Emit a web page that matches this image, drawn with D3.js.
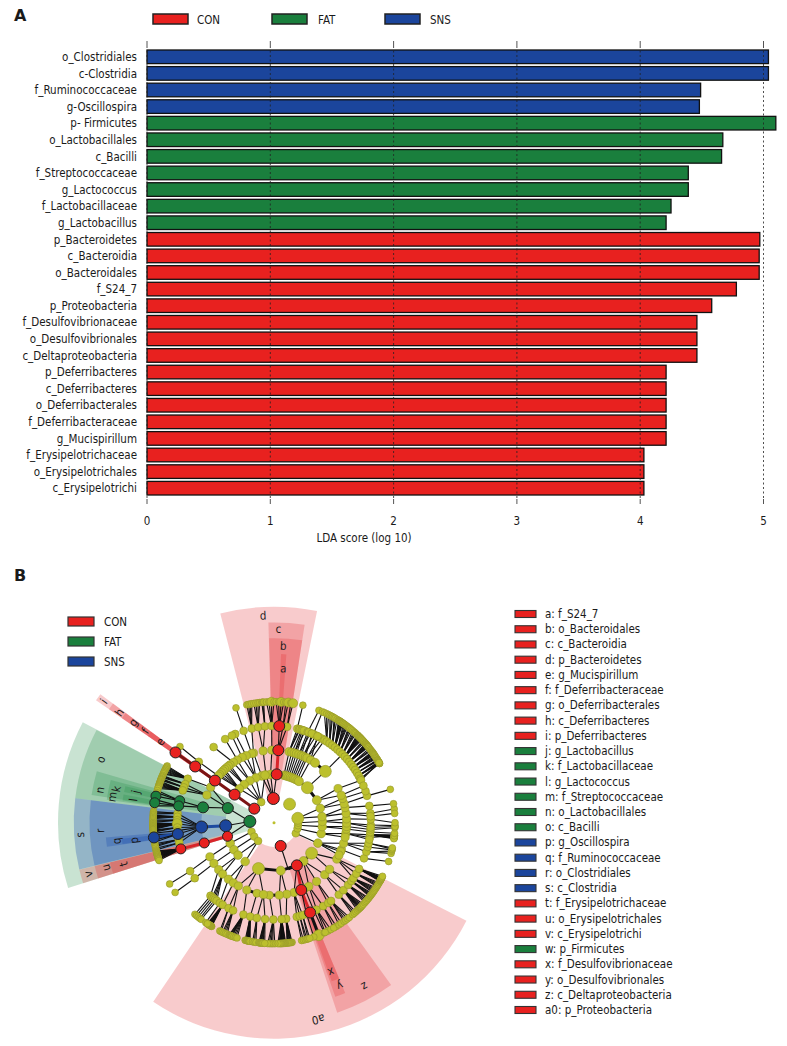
<!DOCTYPE html>
<html><head><meta charset="utf-8">
<script src="https://cdn.jsdelivr.net/npm/d3@7/dist/d3.min.js"></script>
<style>
html,body{margin:0;padding:0;background:#fff}
svg{display:block}
text{font-family:"DejaVu Sans Condensed","DejaVu Sans",sans-serif;font-stretch:condensed;fill:#1a1a1a}
</style></head><body><svg id="c" width="787" height="1046"></svg>
<script>
// ---------- Panel A data ----------
const groups = ["CON","FAT","SNS"];
const groupColors = {CON:"#e8211f",FAT:"#1a7f3d",SNS:"#1b459c"};
const taxa = ["o_Clostridiales","c-Clostridia","f_Ruminococcaceae","g-Oscillospira","p- Firmicutes","o_Lactobacillales","c_Bacilli","f_Streptococcaceae","g_Lactococcus","f_Lactobacillaceae","g_Lactobacillus","p_Bacteroidetes","c_Bacteroidia","o_Bacteroidales","f_S24_7","p_Proteobacteria","f_Desulfovibrionaceae","o_Desulfovibrionales","c_Deltaproteobacteria","p_Deferribacteres","c_Deferribacteres","o_Deferribacterales","f_Deferribacteraceae","g_Mucispirillum","f_Erysipelotrichaceae","o_Erysipelotrichales","c_Erysipelotrichi"];
const ldaScores = [5.04,5.04,4.49,4.48,5.10,4.67,4.66,4.39,4.39,4.25,4.21,4.97,4.965,4.965,4.78,4.58,4.46,4.46,4.46,4.21,4.21,4.21,4.21,4.21,4.03,4.03,4.03];
const taxaGroup = ["SNS","SNS","SNS","SNS","FAT","FAT","FAT","FAT","FAT","FAT","FAT","CON","CON","CON","CON","CON","CON","CON","CON","CON","CON","CON","CON","CON","CON","CON","CON"];
const xTicks = [0,1,2,3,4,5];

// ---------- Panel B data ----------
const sectorKeys = ["a","b","c","d","e","f","g","h","i","j","k","l","m","n","o","p","q","r","s","t","u","v","w","x","y","z","a0"];
const sectorNames = ["f_S24_7","o_Bacteroidales","c_Bacteroidia","p_Bacteroidetes","g_Mucispirillum","f_Deferribacteraceae","o_Deferribacterales","c_Deferribacteres","p_Deferribacteres","g_Lactobacillus","f_Lactobacillaceae","g_Lactococcus","f_Streptococcaceae","o_Lactobacillales","c_Bacilli","g_Oscillospira","f_Ruminococcaceae","o_Clostridiales","c_Clostridia","f_Erysipelotrichaceae","o_Erysipelotrichales","c_Erysipelotrichi","p_Firmicutes","f_Desulfovibrionaceae","o_Desulfovibrionales","c_Deltaproteobacteria","p_Proteobacteria"];
const sectorGroup = ["CON","CON","CON","CON","CON","CON","CON","CON","CON","FAT","FAT","FAT","FAT","FAT","FAT","SNS","SNS","SNS","SNS","CON","CON","CON","FAT","CON","CON","CON","CON"];
const sectorLevel = [4,3,2,1,5,4,3,2,1,5,4,5,4,3,2,5,4,3,2,4,3,2,1,4,3,2,1];
const sectorFrom = [2.4,-1.5,-1.6,-14.4,-55.5,-55.5,-55.5,-55.5,-55.5,-78.4,-79,-81.7,-82.2,-81.4,-83,-98,-98.2,-103.4,-103.5,-107.6,-107.6,-107.6,-107.6,157.3,157.3,144.2,117];
const sectorTo = [4.2,8.8,8.8,11.5,-53.5,-53.5,-53.5,-53.5,-53.5,-76.2,-75.3,-79.4,-79,-73.8,-62.4,-96,-95,-83,-83,-103.6,-103.6,-103.6,-62.3,160,160.6,161.6,214];
const labelAngle = [3.5,3,1.3,-3,-54.5,-54.5,-54.5,-54.5,-54.5,-77.4,-77.9,-80.8,-80.9,-79.4,-69.9,-97.3,-96.6,-92.7,-93.6,-105.4,-105,-105.5,null,159.1,158,151,167.3];
const labelRadius = [154.6,177,194,207.5,139.6,158,173,190,209,141.7,161,142.5,164,177,184.5,141,158.4,174,194.4,155.9,174,192.7,null,160,176,187,201.6];

// tree: number = plain leaf, [angle, children] = plain node, object = node with marks
const cladeTree = [
 {a:-1.6,f:"CON",s:6,k:[
  [-14.7,[[-16.4,[[-13.3,[-13,-12.2,-11.4,-10.6]]]]]],
  [-9.6,[[-8.6,[[-9.4,[-9.6,-8.6,-7.6,-6.8]],[-5.4,[-5.8,-5.4,-4.9]]]]]],
  [-4,[[-1.7,[{a:-1.4,k:[-3.6,-2.4,{a:-1.2,s:4.5},0]}]]]],
  {a:3.2,f:"CON",s:5.5,k:[{a:3.4,f:"CON",s:5.5,edge:"CON",k:[{a:3.1,f:"CON",s:5.5,k:[1,2.2,{a:3.4,s:4.5},4.6]},[5.4,[5.6,{a:6.8,s:4.5}]],[7.8,[8,{a:9.1,s:4.5}]]]}]}
 ]},
 {a:-31.8,k:[
  [-10.7,[]],
  [-22,[[-17.8,[[-18.3,[-18.3]]]],[-22.5,[[-23.6]]],[-26,[[-25.8]]]]],
  [-30,[[-30.3,[[-30.3]]],[-34,[[-38.6]]]]],
  [-38,[[-37.3],[-39],[-41]]],
  [-45.6,[[-42.8],[-44.5],[-46.5],[-48.5],[-50,[[-51,[-51]]]]]]
 ]},
 {a:-54.5,f:"CON",s:5.5,k:[{a:-54.5,f:"CON",s:5.5,edge:"DEEP",k:[{a:-54.5,f:"CON",s:5.5,edge:"DEEP",k:[{a:-54.5,f:"CON",s:5.5,edge:"DEEP",k:[{a:-54.5,f:"CON",s:5.5,edge:"DEEP"}]}]}]}]},
 {a:-87,f:"FAT",s:6,k:[
  {a:-72.4,f:"FAT",s:5.5,k:[
   [-60.7,[[-63,[-62,-62.6,-63.2,-63.8,-64.4,-65,-65.6,-66.2]]]],
   [-67.6,[[-66.5,[-67,-67.5,-68]],[-68.6,[-68.6,-69,-69.4]],[-70.5,[-70,-70.5,-71,-71.5,-72,-72.5,-73,-73.6]]]],
   {a:-77.8,f:"FAT",s:5.5,k:[
    {a:-76.9,f:"FAT",s:5,k:[-74.6,-75.6,{a:-77.3,f:"FAT",s:5}]},
    {a:-80,f:"FAT",s:5,k:[-79,{a:-80.5,f:"FAT",s:5},-82]}
   ]}
  ]},
  {a:-93.6,f:"SNS",s:6,k:[{a:-93.4,f:"SNS",s:6,edge:"SNS",k:[
   [-84.5,[-84.7,-85.3,-85.9]],[-86.5,[-86.4,-87,-87.6,-88.1]],[-88.5,[-88.7,-89.3,-89.9]],
   {a:-90.6,s:5,k:[-90.2,-90.5,-90.8,-91.1,-91.4,-91.7,-92,-92.3,-92.6,-92.9,-93.2]},[-92.8,[-93.5,-94,-94.5]],[-94.7,[-95]],
   {a:-96.7,f:"SNS",s:5.5,k:[-95.6,{a:-97,f:"SNS",s:5.5,edge:"SNS"},-98.3,-99.3]},
   [-100,[-100,-100.8,-101.5]],[-102,[-102.2,-103]]
  ]}]},
  {a:-106.3,f:"CON",s:5,k:[{a:-106.2,f:"CON",s:5,edge:"CON",k:[{a:-105.7,f:"CON",s:5,edge:"CON",k:[-103.5,-103.9,-104.3,-104.7,-105,-105.4,-105.7,-106.1,-106.4,-106.8,-107.2,-107.6,-108.2]}]}]}
 ]},
 [248,[[244.8,[[242,[[240,[239.6]]]]]]]],
 [235,[[236,[[235.9,[[235,[234.8]]]]]]]],
 [221,[
  [228,[[229.7,[[221,[220.8]]]],[225,[[219.7,[219.8]],[218.6,[218.8]],[217.5,[217.8]],[216.3,[217]]]]]],
  [216.6,[[218.9,[[214,[214.3]]]],[214,[[212,[211,211.3,211.6,211.9,212.2,212.5,212.8,213.1,213.4]]]]]]
 ]],
 {a:164,f:"CON",s:5.5,k:[
  {a:163,s:0},
  {a:151.8,f:"CON",s:5.5,side:163,k:[
   {a:158,f:"CON",s:5.5,edge:"CON",k:[{a:158.1,f:"CON",s:5.5,edge:"CON",k:[{a:158.3,s:5.5,edge:"BLACK"}]},[160.4,[160.8]]]},
   [164,[[166.4,[166.8,165.9]],[164.6,[165,164.2]],[162.8,[163.6,162.8]]]],
   [155,[[155.6,[155.4]]]]
  ]},
  {a:172,s:4.5,side:151.8,k:[
   [169.9,[[172.8,[171.4,171.8,172.2,172.6,173,173.4,173.8]]]],
   [175.8,[[175.5,[174.4,174.7,175,175.3,175.6,175.9,176.2,176.5,176.8,177.1,177.6,178.2]]]],
   {a:183.7,s:4,side:175.8,k:[[180.4,[179.6,180.6,181.4,182.2,183]]]}
  ]},
  {a:198.7,s:6,side:172,k:[
   [209.4,[[208,[206.6,205.9]],[205,[205.2,204.4,203.6,202.8]]]],
   [202,[[198.4,[201.8,201.4,201,200.6,200.2,199.4,198.6,197.8]]]],
   {a:193.6,s:4,side:202,k:[[194.2,[193.8,193.4,193,192.7,192.4,192.1,191.8,191.4]]]},
   [188.4,[[190.2,[190.2,189.4,188.6]],[185.3,[187.2,186.8,186.4,186,185.6,185.2,184.4]]]]
  ]},
  {a:142.4,s:4.5,side:151.8,k:[
   [151.3,[[153.9,[153.5,152,155]],[149.5,[149,150.4]]]],
   [144.1,[[146,[147.5,146.2]],[143.9,[144.6,143.7,142.6,141.5]]]],
   [135.7,[[138,[139.4,138.4,137.4]],[134.2,[136.4,135.6,135,134.6,134.2,133.8,133.2,132.4]]]]
  ]},
  {a:129,s:6,side:142.4,k:[
   [130,[[130,[131.4,130.6,129.8,129,128.4]],[127,[127.6,127,126.4,125.8]]]],
   [120.1,[[125,[125.2,124.6,123.9,123.2,122.5]],[121.8,[121.8,121.1,120.4,119.7]],[118.5,[119,118.7,118.4,118.1,117.8,117.5,117.2,116.9,116.3]]]]
  ]}
 ]},
 [116,[[115,[[111.8,[[111.6,[108.7]]]],[106.5,[[107.5,[104.7,103.6]],[104.5,[103]],[102.3,[102.6,102]]]],[113.5],[116.5]]]]],
 [103.7,[[103,[[98.5,[[97.2,[95.8,96,96.2,96.4,96.6,96.8,97,97.2,97.4,97.6]],[98.8,[96.2]],[100]]],[101.5]]]]],
 [96,[[94.7,[[95,[[95.5,[95]]]],[93,[[94,[92.4]]]]]]]],
 [90,[[88.5,[[90.3,[[91.4,[91.4]],[92.8,[91.8]]]],[87,[[88,[90]]]]]]]],
 {a:79.5,s:6,k:[
  [82.8,[[82.6,[[84.4,[83.5]],[86.2,[85.6]]]],[78,[[80,[81]]]]]],
  [72.7,[[74.8,[[73.9,[74]]]],[70.5,[[71]]]]]
 ]},
 {a:40,s:6},
 {a:43,s:0,k:[
  [11.8,[[12,[[13.9,[13.8]],[15,[]],[15.6]]]]],
  [14,[[14.2,[[16.6]]]]],
  [16,[[16.2,[[17.2],[18.8]]]]],
  [18,[[18,[[18]]]]],
  [20,[[20,[[20.4,[21.8]],[22.2]]]]],
  [22,[[22,[[21]]]]],
  [24,[[23.6,[[24,[23.6]],[25.8]]]]],
  [26,[[25.6,[[23]]]]],
  [28.6,[[27,[[27.6],[29.8]]]]],
  {a:31,s:4.5,k:[[30.3,[[31.5],[26.7]]]]},
  {a:43.6,s:6,side:31,k:[
   {a:34.4,s:4.5,side:45,k:[
    {a:33,side:"none",k:[24.6,25.8,26.8]},{a:35,side:"none",k:[27.6,28.4,29]},{a:37,side:"none",k:[29.8,30.4,31.4]},{a:39,side:"none",k:[32.2,32.6,33,33.4,33.8,34.2,34.6]}
   ]},
   {a:45,s:6,k:[
    {a:41,side:"none",k:[35,35.6,36.2,36.8,37.4]},{a:43,side:"none",k:[38,38.5,39,39.8]},
    [45,[40.6,41.4,42,42.6]],{a:47,side:"none",k:[43.4,43.8,44.2,44.6,45,45.4,45.8,46.2,46.6]},{a:49,side:"none",k:[47.2,47.8,48.4]},
    {a:51,side:"none",k:[49,49.4,49.8,50.2,50.6,51,51.3]},{a:53,side:"none",k:[52,52.8,53.4]},{a:55,side:"none",k:[54,54.4,54.8,55.2,55.6,56]},
    {a:57,side:"none",k:[56.4,57,57.5,58]},{a:59,side:"none",k:[58.6,58.9,59.2]},{a:61,side:"none",k:[59.6,60,60.4,60.7]},{a:63,side:"none",k:[60.7]}
   ]}
  ]},
  {a:62.3,s:4.5,side:43.6,k:[
   [61.9,[[64,[60.2]]]],
   [67.8,[[67.5]]]
  ]}
 ]}
];

// ---------- drawing ----------
const svg = d3.select("#c");
const fontSize = "11.5px";

svg.append("text").attr("x",14).attr("y",21).text("A").style("font-family","'DejaVu Sans'").style("font-stretch","normal").style("font-weight","bold").style("font-size","16px");
svg.append("text").attr("x",14).attr("y",581).text("B").style("font-family","'DejaVu Sans'").style("font-stretch","normal").style("font-weight","bold").style("font-size","16px");

const legendX = d3.scaleOrdinal().domain(groups).range([153,272,385]);
const legA = svg.append("g").selectAll("g").data(groups).join("g").attr("transform",d=>`translate(${legendX(d)},14)`);
legA.append("rect").attr("width",35).attr("height",10).attr("fill",d=>groupColors[d]).attr("stroke","#222").attr("stroke-width",1.5);
legA.append("text").attr("x",(d,i)=>[44,46,45][i]).attr("y",10).style("font-size",fontSize).text(d=>d);

const x = d3.scaleLinear().domain([0,5]).range([147,763.5]);
const y = d3.scaleBand().domain(taxa).range([50,495]).paddingInner(0.18);

svg.append("g").selectAll("rect").data(taxa).join("rect")
 .attr("x",x(0)).attr("y",d=>y(d)).attr("height",y.bandwidth())
 .attr("width",(d,i)=>x(ldaScores[i])-x(0))
 .attr("fill",(d,i)=>groupColors[taxaGroup[i]]).attr("stroke","#111").attr("stroke-width",1.3);

const grid = svg.append("g").selectAll("g").data(xTicks).join("g");
grid.append("line").attr("x1",d=>x(d)).attr("x2",d=>x(d)).attr("y1",46).attr("y2",498)
 .attr("stroke","#222").attr("stroke-width",0.8).attr("stroke-dasharray","2 2.5");
grid.append("line").attr("x1",d=>x(d)).attr("x2",d=>x(d)).attr("y1",41).attr("y2",46).attr("stroke","#555").attr("stroke-width",1);
grid.append("line").attr("x1",d=>x(d)).attr("x2",d=>x(d)).attr("y1",499).attr("y2",504).attr("stroke","#555").attr("stroke-width",1);
grid.append("text").attr("x",d=>x(d)).attr("y",525).attr("text-anchor","middle").style("font-size",fontSize).text(d=>d);
svg.append("text").attr("x",364).attr("y",542).attr("text-anchor","middle").style("font-size",fontSize).text("LDA score (log 10)");

svg.append("g").selectAll("text").data(taxa).join("text")
 .attr("x",137).attr("y",d=>y(d)+y.bandwidth()/2+4.2).attr("text-anchor","end").style("font-size",fontSize).text(d=>d);

// Panel B
const cx = 274, cy = 822.7;
const rad = d => d*Math.PI/180;
const ringR = d3.scaleLinear().domain([1,5]).range([24.2,121]);
const shadeR = d3.scaleLinear().domain([1,5]).range([216,153]);
const g = svg.append("g").attr("transform",`translate(${cx},${cy})`);
const sectorFill = {CON:"#e3262b",FAT:"#1c8a44",SNS:"#1a4bb0"};

const sectors = sectorKeys.map((k,i)=>({k,i})).sort((a,b)=>sectorLevel[a.i]-sectorLevel[b.i]);
const arc = d3.arc();
g.append("g").selectAll("path").data(sectors).join("path")
 .attr("d",d=>arc({innerRadius:ringR(sectorLevel[d.i]),outerRadius:shadeR(sectorLevel[d.i]),startAngle:rad(sectorFrom[d.i]),endAngle:rad(sectorTo[d.i])}))
 .attr("fill",d=>sectorFill[sectorGroup[d.i]]).attr("fill-opacity",d=>sectorGroup[d.i]==="SNS"?0.3:0.24);

const norm = d => typeof d==="number" ? {a:d} : Array.isArray(d) ? {a:d[0],k:d[1]} : d;
const root = d3.hierarchy({k:cladeTree}, d=>{const c=norm(d).k; return c&&c.length?c:null;});
const nodes = root.descendants().filter(n=>n.depth>0);
nodes.forEach(n=>{
 n.m = norm(n.data);
 n.pos = d3.pointRadial(rad(n.m.a), ringR(n.depth));
});
const defaultR = d3.scaleOrdinal().domain([1,2,3,4,5]).range([3.8,4.3,4.1,3.9,3.4]);
const nodeR = n => n.m.s!==undefined ? n.m.s : defaultR(n.depth);
const edgeColor = {CON:"#d8242a",SNS:"#1d4aa0",DEEP:"#7c1414",BLACK:"#111"};
const sibling = (n,a) => n.parent.children.find(s=>s.m.a===a);
const links = nodes.filter(n=>n.depth>1 && n.m.side!=="none").map(n=>{
  const side = n.m.side;
  const src = side!==undefined ? sibling(n,side) : n.parent;
  return {src,dst:n,thick:side!==undefined||!!n.m.edge,col:n.m.edge?edgeColor[n.m.edge]:"#111"};
}).filter(l=>l.thick||nodeR(l.src)>0);

g.append("g").selectAll("line").data(links).join("line")
 .attr("x1",d=>d.src.pos[0]).attr("y1",d=>d.src.pos[1]).attr("x2",d=>d.dst.pos[0]).attr("y2",d=>d.dst.pos[1])
 .attr("stroke",d=>d.col).attr("stroke-width",d=>d.thick?3:1.1);

const ordered = nodes.slice().sort((a,b)=>(a.m.f?1:0)-(b.m.f?1:0)).filter(n=>nodeR(n)>0);
g.append("g").selectAll("circle").data(ordered).join("circle")
 .attr("cx",d=>d.pos[0]).attr("cy",d=>d.pos[1]).attr("r",nodeR)
 .attr("fill",d=>d.m.f?groupColors[d.m.f]:"#bcc02d")
 .attr("stroke",d=>d.m.f?"#222":"#93952a").attr("stroke-width",d=>d.m.f?1:0.6);
g.append("circle").attr("r",1.5).attr("fill","#bcc02d");

g.append("g").selectAll("text").data(sectorKeys.map((k,i)=>({k,i})).filter(d=>labelAngle[d.i]!==null)).join("text")
 .attr("transform",d=>{const p=d3.pointRadial(rad(labelAngle[d.i]),labelRadius[d.i]);return `translate(${p[0]},${p[1]}) rotate(${labelAngle[d.i]})`;})
 .attr("text-anchor","middle").attr("dominant-baseline","central").style("font-size",fontSize).text(d=>d.k);

const legB = svg.append("g").selectAll("g").data(groups).join("g").attr("transform",(d,i)=>`translate(68,${617+i*20})`);
legB.append("rect").attr("width",26).attr("height",9).attr("fill",d=>groupColors[d]).attr("stroke","#333").attr("stroke-width",1.2);
legB.append("text").attr("x",36).attr("y",9).style("font-size",fontSize).text(d=>d);

const legY = d3.scalePoint().domain(sectorKeys).range([614,1010]);
const legC = svg.append("g").selectAll("g").data(sectorKeys).join("g").attr("transform",d=>`translate(515,${legY(d)})`);
legC.append("rect").attr("y",-3.5).attr("width",21).attr("height",7).attr("fill",(d,i)=>groupColors[sectorGroup[i]]).attr("stroke","#333").attr("stroke-width",1.1);
legC.append("text").attr("x",30).attr("y",4).style("font-size",fontSize).text((d,i)=>`${d}: ${sectorNames[i]}`);
</script></body></html>
